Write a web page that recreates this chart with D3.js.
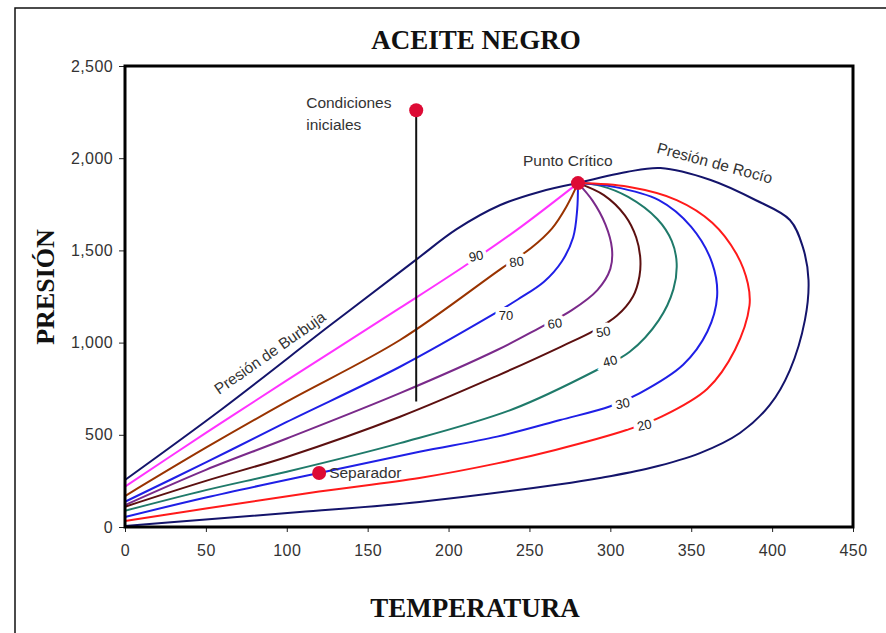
<!DOCTYPE html>
<meta charset="utf-8">
<head>
  <title>Aceite negro</title>
</head>
<style>
body { margin: 0; background: #fff; }
svg { display: block; }
.tick text { font-family: "Liberation Sans", Arial, sans-serif; font-size: 16px; fill: #333; letter-spacing: 0.4px; }
.note { font-family: "Liberation Sans", Arial, sans-serif; font-size: 15.5px; fill: #333; }
.qlab { font-family: "Liberation Sans", Arial, sans-serif; font-size: 13px; fill: #222;
        stroke: #fff; stroke-width: 8px; paint-order: stroke; }
.big { font-family: "Liberation Serif", "Times New Roman", serif; font-weight: bold; fill: #111; }
</style>
<body>
<svg width="886" height="633"></svg>
<script src="https://cdn.jsdelivr.net/npm/d3@7"></script>
<script>

// curves: [temperature, pressure]
var bubble = [[0,255],[60,640],[127,1095],[180,1450],[205,1615],[232,1746],[256,1817],[280,1865]];
var dew = [[0,5],[46,38],[108,81],[182,136],[269,232],[293.6,266],[324.5,320],[355.4,401],[380.1,510],
           [398.6,662],[411,851],[420.3,1123],[422.5,1339],[419,1518],[411,1665],[390,1772],[362,1882],
           [331,1947],[310,1925],[280,1865]];

var q90 = [[0,219],[50,510],[100,795],[170,1188],[209,1410],[242,1610],[280,1865]];
var q80 = [[0,168],[50,430],[100,680],[170,1014],[233,1404],[251,1513],[264,1620],[273,1740],[280,1865]];
var q70 = [[0,137],[50,350],[100,570],[170,869],[227,1150],[243,1235],[259,1330],[270,1440],
           [277,1570],[279.5,1720],[280,1865]];
var q60 = [[0,119],[50,310],[100,480],[170,726],[230,960],[256,1079],[276,1175],[292,1285],[300,1400],
           [301,1510],[297,1640],[289,1770],[280,1865]];
var q50 = [[0,110],[50,250],[100,380],[170,598],[230,820],[270,980],[290,1065],[304,1145],[314,1250],
           [318,1360],[318.5,1460],[316,1570],[309,1690],[296,1800],[280,1865]];
var q40 = [[0,88],[50,200],[100,300],[170,455],[240,640],[294,862],[312,950],[330,1122],[339,1290],
           [341,1430],[338,1550],[329,1670],[311,1790],[294,1850],[280,1865]];
var q30 = [[0,54],[50,160],[120,293],[182,408],[230,490],[269,580],[300,655],[318,725],[345,880],
           [360,1060],[366,1249],[363,1430],[350,1628],[330,1773],[302,1845],[280,1865]];
var q20 = [[0,33],[50,100],[120,192],[182,266],[230,345],[266,418],[310,526],[332,600],[360,750],
           [377,960],[386,1200],[385,1320],[378,1480],[363,1650],[341,1773],[311,1845],[280,1865]];

var qualities = ["90","80","70","60","50","40","30","20"];
var qualityCurves = [q90, q80, q70, q60, q50, q40, q30, q20];
var qualityColors = ["#ff33ff","#993300","#1f1fe6","#7a2a8a","#5c1010","#1f7a6a","#1f1fe6","#ff1a1a"];
// where each number sits, plus a small tilt
var labelPos = [[217,1470],[242,1439],[235.5,1150],[265.7,1104],[295.6,1059],[299.8,900],[307.6,670],[321,553]];
var labelTilt = [-12,-8,0,-8,-10,-15,-12,-12];

var xTicks = [0,50,100,150,200,250,300,350,400,450];
var yTicks = [0,500,1000,1500,2000,2500];

var critical = [280,1865];
var initial = [180,2260];
var initialEnd = [180,680];
var separator = [120,293];

var margin = {left: 125, top: 66, right: 33, bottom: 106};
var W = 886, H = 633;
var w = W - margin.left - margin.right, h = H - margin.top - margin.bottom;

var svg = d3.select("svg");

// outer border (cut off at right and bottom)
svg.append("path")
    .attr("d", "M15," + H + "V8H" + W)
    .attr("fill", "none").attr("stroke", "#111").attr("stroke-width", 1.5);

var x = d3.scaleLinear().domain([0,450]).range([0,w]);
var y = d3.scaleLinear().domain([0,2500]).range([h,0]);

var g = svg.append("g").attr("transform", "translate(" + margin.left + "," + margin.top + ")");

var line = d3.line()
    .x(d => x(d[0])).y(d => y(d[1]))
    .curve(d3.curveCatmullRom.alpha(0.5));

g.append("path").datum(dew).attr("d", line)
    .attr("fill", "none").attr("stroke", "#14146b").attr("stroke-width", 2);
g.append("path").datum(bubble).attr("d", line)
    .attr("fill", "none").attr("stroke", "#14146b").attr("stroke-width", 2);

g.selectAll(".q").data(qualityCurves).enter().append("path")
    .attr("class", "q")
    .attr("d", line)
    .attr("fill", "none")
    .attr("stroke", (d, i) => qualityColors[i])
    .attr("stroke-width", 2);

g.selectAll(".qlab").data(qualities).enter().append("text")
    .attr("class", "qlab")
    .attr("text-anchor", "middle")
    .attr("dy", "0.35em")
    .attr("transform", (d, i) => "translate(" + x(labelPos[i][0]) + "," + y(labelPos[i][1]) + ") rotate(" + labelTilt[i] + ")")
    .text(d => d);

// vertical line from the initial conditions
g.append("line")
    .attr("x1", x(initial[0])).attr("x2", x(initialEnd[0]))
    .attr("y1", y(initial[1])).attr("y2", y(initialEnd[1]))
    .attr("stroke", "#111").attr("stroke-width", 2);

g.selectAll(".dot").data([critical, initial, separator]).enter().append("circle")
    .attr("cx", d => x(d[0])).attr("cy", d => y(d[1]))
    .attr("r", 7).attr("fill", "#dd0b35");

// annotations
g.append("text").attr("class", "note").attr("x", x(initial[0]) - 110).attr("y", y(initial[1]) - 2).text("Condiciones");
g.append("text").attr("class", "note").attr("x", x(initial[0]) - 110).attr("y", y(initial[1]) + 20).text("iniciales");
g.append("text").attr("class", "note").attr("x", x(critical[0]) - 55).attr("y", y(critical[1]) - 17).text("Punto Crítico");
g.append("text").attr("class", "note").attr("x", x(separator[0]) + 10).attr("y", y(separator[1]) + 5).text("Separador");
g.append("text").attr("class", "note").attr("text-anchor", "middle").attr("dy", "0.35em")
    .attr("transform", "translate(" + x(364.6) + "," + y(1974) + ") rotate(15)").text("Presión de Rocío");
g.append("text").attr("class", "note").attr("text-anchor", "middle").attr("dy", "0.35em")
    .attr("transform", "translate(" + x(89.5) + "," + y(945) + ") rotate(-35)").text("Presión de Burbuja");

// axes
g.append("g").attr("transform", "translate(0," + h + ")")
    .call(d3.axisBottom(x).tickValues(xTicks).tickSize(5).tickPadding(13))
    .call(a => a.select(".domain").remove());
g.append("g")
    .call(d3.axisLeft(y).tickValues(yTicks).tickFormat(d3.format(",")).tickSize(6).tickPadding(6))
    .call(a => a.select(".domain").remove());
g.selectAll(".tick line").attr("stroke", "#222");

g.append("rect").attr("width", w).attr("height", h)
    .attr("fill", "none").attr("stroke", "#000").attr("stroke-width", 3);

// titles
svg.append("text").attr("class", "big").attr("x", 476).attr("y", 49)
    .attr("text-anchor", "middle").attr("font-size", 27).text("ACEITE NEGRO");
svg.append("text").attr("class", "big").attr("x", 475).attr("y", 617)
    .attr("text-anchor", "middle").attr("font-size", 27).text("TEMPERATURA");
svg.append("text").attr("class", "big").attr("text-anchor", "middle").attr("font-size", 26)
    .attr("transform", "translate(54,287) rotate(-90)").text("PRESIÓN");

</script>
</body>
</html>
